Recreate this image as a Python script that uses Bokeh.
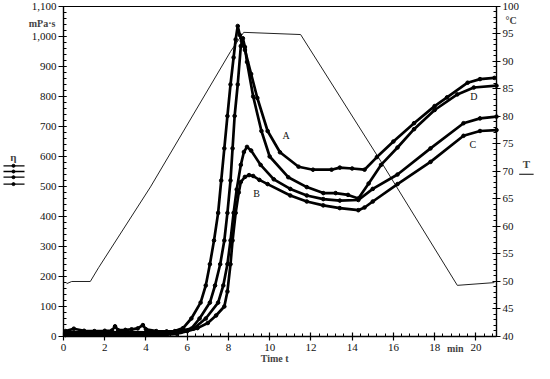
from bokeh.plotting import figure
from bokeh.models import Range1d, LinearAxis, FixedTicker, NumeralTickFormatter, Label, ColumnDataSource
from bokeh.embed import file_html
from bokeh.resources import INLINE

# ---- data ----
a_t = [0.1, 0.5, 1.0, 1.5, 2.0, 2.35, 2.5, 2.65, 3.0, 3.3, 3.6, 3.85, 4.0, 4.5, 5.0, 5.4, 5.8, 6.2, 6.65, 6.9,
       7.1, 7.3, 7.5, 7.65, 7.8, 7.95, 8.1, 8.25, 8.35, 8.45, 8.55, 8.65, 8.8, 9.1, 9.4, 9.9, 10.5, 11.4,
       12.1, 13.0, 13.4, 14.0, 14.6, 15.2, 16.0, 17.0, 18.0, 18.6, 19.6, 20.2, 20.9]
a_v = [18, 26, 19, 18, 19, 20, 34, 21, 22, 24, 27, 38, 24, 18, 17, 18, 28, 60, 113, 170,
       241, 320, 412, 520, 627, 735, 840, 930, 990, 1035, 1005, 985, 955, 875, 795, 685, 614, 566,
       556, 556, 563, 560, 556, 598, 650, 711, 768, 797, 846, 858, 862]
b_t = [0.1, 1.0, 2.0, 3.0, 4.0, 5.0, 5.6, 6.2, 6.6, 7.1, 7.35, 7.6, 7.8, 7.95, 8.1, 8.2, 8.3, 8.45, 8.6,
       8.7, 8.8, 8.9, 9.2, 9.6, 10.0, 10.9, 11.8, 12.6, 13.2, 13.8, 14.3, 14.8, 15.4, 16.2, 17.0, 18.0,
       19.1, 19.9, 21.0]
b_v = [14, 15, 13, 15, 14, 14, 18, 26, 60, 113, 170, 241, 320, 412, 520, 627, 735, 840, 968,
       994, 965, 915, 800, 685, 600, 531, 498, 478, 478, 472, 460, 510, 572, 630, 691, 755,
       807, 830, 836]
c_t = [0.1, 1.0, 2.0, 3.0, 4.0, 5.0, 5.7, 6.3, 6.9, 7.5, 7.75, 7.95, 8.1, 8.25, 8.4, 8.6, 8.75, 8.9,
       9.1, 9.56, 10.2, 11.0, 11.8, 12.6, 13.4, 14.3, 15.0, 16.2, 17.8, 19.4, 20.2, 21.0]
c_v = [9, 10, 9, 10, 9, 10, 15, 26, 60, 113, 170, 241, 320, 412, 490, 572, 615, 632,
       620, 572, 524, 492, 470, 458, 453, 455, 492, 540, 627, 711, 727, 733]
d_t = [0.1, 1.0, 2.0, 3.0, 4.0, 5.0, 5.5, 6.0, 6.5, 7.0, 7.4, 7.8, 7.95, 8.1, 8.2, 8.35, 8.5, 8.6, 8.8,
       9.0, 9.2, 9.5, 9.9, 11.0, 11.8, 12.6, 13.4, 14.3, 14.6, 15.0, 16.2, 17.8, 19.4, 20.2, 21.0]
d_v = [5, 6, 5, 6, 5, 6, 9, 18, 28, 45, 70, 100, 150, 241, 320, 412, 480, 515, 532,
       538, 535, 522, 508, 470, 450, 437, 428, 421, 430, 450, 508, 582, 669, 685, 688]
temp_t = [0.15, 0.4, 1.3, 1.7, 4.22, 8.1, 8.74, 11.5, 15.4, 19.1, 20.9]
temp_v = [49.6, 50.0, 50.0, 52.5, 67.2, 91.8, 95.3, 94.9, 71.8, 49.3, 49.8]

x_ticks = [0, 2, 4, 6, 8, 10, 12, 14, 16, 18, 20]
eta_ticks = [0, 100, 200, 300, 400, 500, 600, 700, 800, 900, 1000, 1100]
temp_ticks = [40, 45, 50, 55, 60, 65, 70, 75, 80, 85, 90, 95, 100]
curve_labels = ["A", "B", "C", "D"]
label_t = [10.8, 9.37, 19.85, 19.9]
label_v = [669, 476, 640, 801]
legend_levels = [569, 550, 531, 508]

FONT = "Liberation Serif"
T_MAX, ETA_MAX = 21, 1100
T_LO, T_HI = 40, 100

# frame covers the whole canvas; axes drawn at fixed data locations
p = figure(width=534, height=363,
           x_range=Range1d(-3.055, 22.843), y_range=Range1d(-90, 1120),
           output_backend="svg", toolbar_location=None,
           x_axis_type=None, y_axis_type=None,
           min_border_left=0, min_border_right=0, min_border_top=0, min_border_bottom=0)
p.extra_y_ranges = {"T": Range1d(35.09, 101.09)}
p.grid.visible = False
p.outline_line_color = None
p.background_fill_color = "white"
p.border_fill_color = "white"

def style_axis(ax, major, minor, tin, tout, min_in, min_out, standoff):
    ax.ticker = FixedTicker(ticks=major, minor_ticks=minor)
    ax.axis_line_color = "black"
    ax.axis_line_width = 1.4
    ax.major_tick_line_color = "black"
    ax.major_tick_line_width = 1.2
    ax.minor_tick_line_color = "black"
    ax.major_tick_in = tin
    ax.major_tick_out = tout
    ax.minor_tick_in = min_in
    ax.minor_tick_out = min_out
    ax.major_label_text_font = FONT
    ax.major_label_text_font_size = "11px"
    ax.major_label_text_color = "#111111"
    ax.major_label_standoff = standoff

xa = LinearAxis(fixed_location=0, bounds=(0, T_MAX))
style_axis(xa, x_ticks, [i * 0.4 for i in range(53)], 4, 4, 3, 0, 3)
p.add_layout(xa, "below")

ya = LinearAxis(fixed_location=0, bounds=(0, ETA_MAX))
style_axis(ya, eta_ticks, [i * 20 for i in range(56)], 3, 5, 3, 0, 2)
ya.formatter = NumeralTickFormatter(format="0,0")
p.add_layout(ya, "left")

ra = LinearAxis(y_range_name="T", fixed_location=T_MAX, bounds=(T_LO, T_HI))
style_axis(ra, temp_ticks, [T_LO + i for i in range(61)], 4, 4, 3, 0, 2)
p.add_layout(ra, "right")

top = LinearAxis(fixed_location=ETA_MAX, bounds=(0, T_MAX), ticker=FixedTicker(ticks=[]))
top.axis_line_color = "black"
top.axis_line_width = 1.2
top.major_label_text_font_size = "0px"
p.add_layout(top, "above")

# temperature line
p.line(temp_t, temp_v, y_range_name="T", line_color="#222222", line_width=1)

for tt, vv in [(a_t, a_v), (b_t, b_v), (c_t, c_v), (d_t, d_v)]:
    src = ColumnDataSource(dict(t=tt, v=vv))
    p.line("t", "v", source=src, line_color="black", line_width=2.7)
    p.scatter("t", "v", source=src, size=3.6, color="black")

for txt, tx, vy in zip(curve_labels, label_t, label_v):
    p.add_layout(Label(x=tx, y=vy, text=txt, text_font=FONT, text_font_size="10px",
                       text_align="center", text_baseline="middle", text_color="#111111"))

# unit labels
p.add_layout(Label(x=-0.39, y=1043, text="mPa·s", text_font=FONT, text_font_size="10px",
                   text_font_style="bold", text_align="right", text_baseline="middle"))
p.add_layout(Label(x=21.44, y=97.4, y_range_name="T", text="°C", text_font=FONT, text_font_size="10px",
                   text_font_style="bold", text_align="left", text_baseline="middle"))
p.add_layout(Label(x=10.24, y=-73, text="Time t", text_font=FONT, text_font_size="10px",
                   text_font_style="bold", text_align="center", text_baseline="middle"))
p.add_layout(Label(x=19.0, y=-41, text="min", text_font=FONT, text_font_size="10px",
                   text_font_style="bold", text_align="center", text_baseline="middle"))

# eta legend symbol
p.add_layout(Label(x=-2.425, y=598, text="η", text_font=FONT, text_font_size="11px",
                   text_font_style="bold", text_align="center", text_baseline="middle"))
n = len(legend_levels)
p.segment(x0=[-2.91] * n, y0=legend_levels, x1=[-1.89] * n, y1=legend_levels,
          line_color="black", line_width=1.3)
p.scatter(x=[-2.425] * n, y=legend_levels, size=3, color="black")

# T legend symbol
p.add_layout(Label(x=22.45, y=71.4, y_range_name="T", text="T", text_font=FONT, text_font_size="11px",
                   text_font_style="bold", text_align="center", text_baseline="middle"))
p.segment(x0=[22.1], y0=[69.5], x1=[22.8], y1=[69.5], y_range_name="T",
          line_color="black", line_width=1.2)

open("out.html", "w").write(file_html(p, INLINE))
